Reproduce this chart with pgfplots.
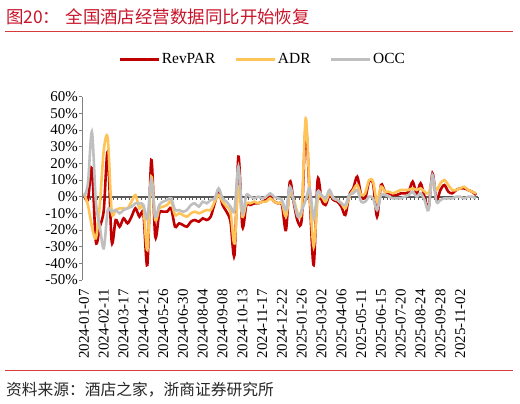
\documentclass[border=0pt]{standalone}
\usepackage{pgfplots}
\pgfplotsset{compat=1.18}
\usepackage{pgfplotstable}
\usepackage{fontspec}
\setmainfont{Liberation Serif}
\newfontfamily\cjk{Noto Sans CJK SC}
\definecolor{revc}{RGB}{192,0,0}
\definecolor{adrc}{RGB}{255,196,87}
\definecolor{occc}{RGB}{191,191,191}
\definecolor{titlered}{RGB}{200,20,40}
\definecolor{rulered}{RGB}{215,60,60}
\definecolor{axgray}{RGB}{89,89,89}

\pgfplotstableread{
i rev adr occ
0 1 2 0
1 -2 -5 8
2 17 -18 39
3 -27 -25 -3
4 -18 -5 -18
5 -8 28 -31
6 27 35 -8
7 -27 -9 -9
8 -14 -8 -8
9 -18 -7 -10
10 -13 -7 -8
11 -16 -7 -7
12 -12 -3 -6
13 -7 1 -4
14 -12 -7 -4
15 -10 -6 -5
16 -41 -32 -13
17 22 12 10
18 -24 -14 -12
19 -10 -7 -5
20 -9 -6 -3
21 -9 -5 -2
22 -7 -3 -1
23 -18 -11 -8
24 -16 -10 -8
25 -17 -11 -9
26 -18 -12 -8
27 -15 -10 -5
28 -14 -9 -4
29 -15 -10 -6
30 -13 -9 -3
31 -14 -8 -4
32 -12 -8 -2
33 -4 -3 -1
34 3 1 5
35 -5 -3 -1
36 -9 -6 -3
37 -15 -9 -6
38 -35 -28 -8
39 24 6 18
40 -18 -12 -10
41 -5 -4 1
42 -5 -4 0
43 -4 -3 -1
44 -4 -4 0
45 -3 -3 -1
46 -2 -3 0
47 0 -1 2
48 -3 -3 0
49 -4 -4 -1
50 -5 -4 -2
51 -20 -12 -8
52 9 2 6
53 -4 -2 -3
54 -15 -10 -12
55 -13 -8 -8
56 42 47 -2
57 0 3 5
58 -41 -30 -13
59 10 -2 3
60 -2 0 1
61 -5 -3 -1
62 1 2 4
63 -2 -1 -1
64 -3 -2 -2
65 -6 -4 -4
66 -11 -7 -5
67 1 0 1
68 5 4 2
69 12 7 4
70 1 1 -3
71 -1 2 -3
72 9 10 0
73 8 9 -1
74 -12 -3 -8
75 7 6 1
76 3 3 1
77 2 3 0
78 1 2 -1
79 1 3 -1
80 2 4 -1
81 2 4 0
82 3 4 1
83 9 5 3
84 2 4 0
85 8 5 2
86 0 3 -2
87 -7 2 -8
88 14 9 13
89 -2 4 -3
90 4 8 -2
91 7 10 -1
92 3 7 -1
93 2 4 -1
94 4 4 0
95 5 5 0
96 5 6 -1
97 4 4 0
98 3 3 0
99 1 2 -1
}\datatab

\begin{document}
\begin{tikzpicture}[x=1bp,y=1bp]
\useasboundingbox (0,0) rectangle (520,403);
\node[anchor=west, text=titlered, font=\cjk\fontsize{17.5}{20}\selectfont, inner sep=0] at (6,386) {图20：\hspace{0.3em}全国酒店经营数据同比开始恢复};
\draw[rulered, line width=0.8bp] (5,371.3) -- (513,371.3);
\draw[rulered, line width=0.8bp] (5,32.3) -- (513,32.3);
\node[anchor=west, font=\cjk\fontsize{15.8}{18}\selectfont, inner sep=0, text=black!85] at (6,13) {资料来源：酒店之家，浙商证券研究所};

\begin{axis}[at={(82bp,123bp)}, anchor=south west, scale only axis,
  width=396bp, height=183.3bp, xmin=-0.5, xmax=99.5, ymin=-50, ymax=60,
  axis x line=middle, axis y line=none,
  xtick={-0.5,0.5,...,99.5}, xticklabels={},
  x axis line style={-,draw=axgray,line width=1.8bp},
  xtick style={draw=axgray, line width=0.8bp, yshift=-1.75bp},
  major tick length=3.5bp]
\end{axis}

\begin{axis}[at={(82bp,123bp)}, anchor=south west, scale only axis,
  width=396bp, height=183.3bp, xmin=-0.5, xmax=99.5, ymin=-50, ymax=60,
  axis y line*=left, axis x line*=bottom,
  x axis line style={draw=none},
  y axis line style={-, draw=gray, line width=0.8bp},
  ytick={-50,-40,...,60},
  yticklabels={-50\%,-40\%,-30\%,-20\%,-10\%,0\%,10\%,20\%,30\%,40\%,50\%,60\%},
  ytick style={draw=gray, line width=0.8bp},
  ytick align=outside, major tick length=3bp,
  xtick={0,5,...,95},
  xticklabels={2024-01-07,2024-02-11,2024-03-17,2024-04-21,2024-05-26,2024-06-30,2024-08-04,2024-09-08,2024-10-13,2024-11-17,2024-12-22,2025-01-26,2025-03-02,2025-04-06,2025-05-11,2025-06-15,2025-07-20,2025-08-24,2025-09-28,2025-11-02},
  xtick style={draw=none},
  xticklabel style={rotate=90, anchor=east, inner sep=0pt, font=\fontsize{15}{15}\selectfont},
  xticklabel shift=9bp,
  yticklabel style={inner sep=1bp, font=\fontsize{15}{15}\selectfont},
  legend style={at={(0.456,1.204)}, anchor=center, draw=none, fill=none,
    legend columns=3, font=\fontsize{15.5}{16}\selectfont,
    /tikz/every even column/.append style={column sep=17bp}},
  legend image code/.code={\draw[#1, line width=2.6bp] (0bp,0bp) -- (39bp,0bp);},
]
\addplot[revc, line width=2.6bp, smooth, tension=0.5] table[x=i,y=rev]{\datatab};
\addplot[adrc, line width=2.6bp, smooth, tension=0.5] table[x=i,y=adr]{\datatab};
\addplot[occc, line width=2.6bp, smooth, tension=0.5] table[x=i,y=occ]{\datatab};
\legend{RevPAR,ADR,OCC}
\end{axis}
\end{tikzpicture}
\end{document}
